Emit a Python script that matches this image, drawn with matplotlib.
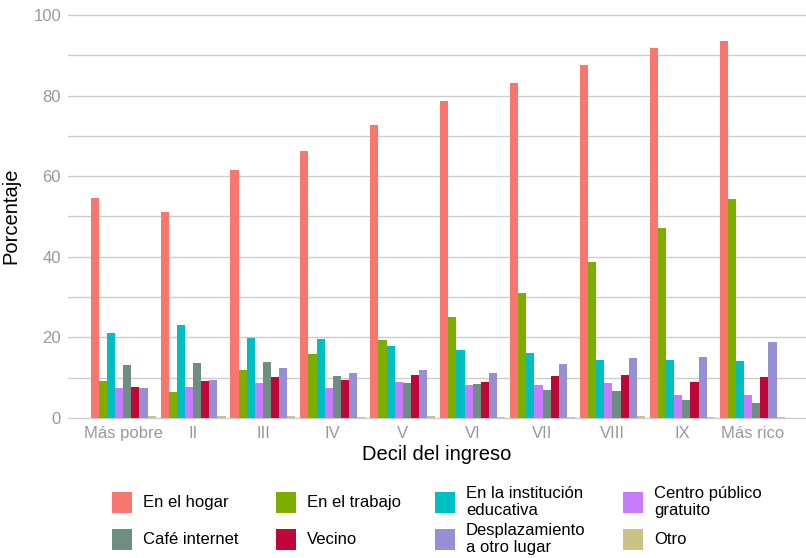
import matplotlib
matplotlib.use("Agg")
import matplotlib.pyplot as plt
import numpy as np
from matplotlib.patches import Rectangle

plt.rcParams['font.family'] = ['Liberation Sans', 'DejaVu Sans']

deciles = ["Más pobre", "II", "III", "IV", "V", "VI", "VII", "VIII", "IX", "Más rico"]
series_names = ["En el hogar", "En el trabajo", "En la institución\neducativa", "Centro público\ngratuito",
                "Café internet", "Vecino", "Desplazamiento\na otro lugar", "Otro"]
colors = ["#F8766D", "#7CAE00", "#00BFC4", "#C77CFF", "#6E8E82", "#C00639", "#9590D3", "#CCC285"]

en_hogar = [54.6, 51.0, 61.5, 66.2, 72.7, 78.7, 83.1, 87.6, 91.8, 93.6]
en_trabajo = [9.2, 6.4, 11.9, 15.9, 19.4, 25.1, 31.0, 38.7, 47.1, 54.3]
en_institucion = [21.1, 23.1, 19.9, 19.6, 17.9, 16.9, 16.1, 14.4, 14.4, 14.1]
centro_publico = [7.4, 7.7, 8.7, 7.4, 8.9, 8.2, 8.2, 8.7, 5.7, 5.7]
cafe_internet = [13.2, 13.6, 13.9, 10.4, 8.7, 8.4, 6.9, 6.7, 4.5, 3.7]
vecino = [7.7, 9.2, 10.2, 9.4, 10.7, 8.9, 10.4, 10.7, 8.9, 10.2]
desplazamiento = [7.4, 9.4, 12.4, 11.1, 11.9, 11.2, 13.4, 14.9, 15.1, 18.9]
otro = [0.5, 0.5, 0.5, 0.3, 0.5, 0.3, 0.3, 0.5, 0.2, 0.2]

data = [en_hogar, en_trabajo, en_institucion, centro_publico, cafe_internet, vecino, desplazamiento, otro]

W, H = 806, 558
fig = plt.figure(figsize=(W / 100, H / 100), dpi=100)
left, right, top, bottom = 68, 806, 12, 420
ax = fig.add_axes([left / W, 1 - bottom / H, (right - left) / W, (bottom - top) / H])

n = len(data)
total_w = 0.93
bw = total_w / n
x = np.arange(len(deciles))
for k, (vals, c) in enumerate(zip(data, colors)):
    off = -total_w / 2 + bw * (k + 0.5)
    ax.bar(x + off, vals, width=bw, color=c, linewidth=0, zorder=2)

ax.set_xlim(-0.79, len(deciles) - 1 + 0.77)
ax.set_ylim(-0.5, 100.74)
ax.set_yticks([0, 20, 40, 60, 80, 100])
ax.set_yticks([10, 30, 50, 70, 90], minor=True)
ax.set_xticks(x)
ax.set_xticklabels(deciles)
ax.grid(axis='y', which='both', color='#CCCCCC', linewidth=1.0, zorder=0)
ax.grid(axis='x', visible=False)
for s in ax.spines.values():
    s.set_visible(False)
ax.tick_params(axis='both', which='both', length=0, labelcolor='#999999', labelsize=12)
ax.tick_params(axis='y', pad=5)
ax.tick_params(axis='x', pad=4)
ax.set_ylabel("Porcentaje", fontsize=14.5, color='black', labelpad=9)
ax.set_xlabel("Decil del ingreso", fontsize=14.5, color='black', labelpad=3)

# Legend laid out in a fixed 2 x 4 grid (row-wise, as in the reference)
key_x = [112, 276, 435, 623]
row_y = [502, 539]
kw, kh = 20, 21
for i, (name, c) in enumerate(zip(series_names, colors)):
    r, col = divmod(i, 4)
    kx, ky = key_x[col], row_y[r]
    fig.patches.append(Rectangle((kx / W, 1 - (ky + kh / 2) / H), kw / W, kh / H,
                                 transform=fig.transFigure, facecolor=c, edgecolor='none'))
    fig.text((kx + kw + 11) / W, 1 - ky / H, name, fontsize=12, va='center', ha='left',
             linespacing=1.12, color='black')

fig.savefig("out.png", dpi=100)
